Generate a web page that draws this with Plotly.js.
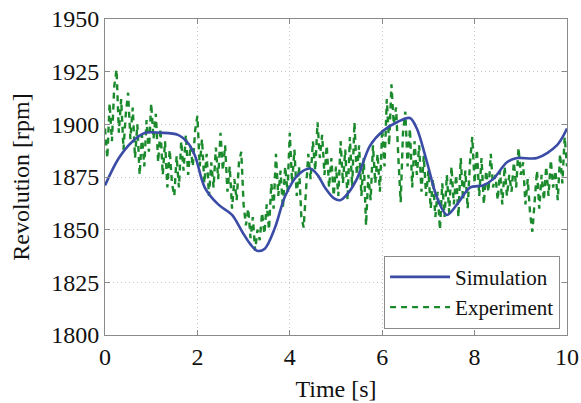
<!DOCTYPE html>
<html>
<head>
<meta charset="utf-8">
<script src="https://cdn.plot.ly/plotly-3.0.1.min.js"></script>
<style>html,body{margin:0;padding:0;background:#fff;}#chart{width:581px;height:403px;}</style>
</head>
<body>
<div id="chart"></div>
<script>
// Simulation (smooth) - time [s] and revolution [rpm]
const simTime = [0, 0.3, 0.6, 0.87, 1.2, 1.58, 1.8, 1.95, 2.16, 2.45, 2.75, 2.97, 3.15, 3.29, 3.46, 3.68, 3.9, 4.18, 4.44, 4.6, 4.76, 4.95, 5.09, 5.25, 5.45, 5.74, 6.02, 6.32, 6.6, 6.75, 6.97, 7.19, 7.4, 7.62, 7.9, 8.18, 8.4, 8.7, 8.92, 9.35, 9.78, 10];
const simRpm  = [1871, 1884, 1892, 1896, 1896, 1895, 1891, 1885, 1870, 1862, 1857, 1849, 1843, 1840, 1841, 1851, 1866, 1876, 1879, 1876, 1870, 1865, 1864, 1867, 1874, 1890, 1897, 1901, 1903, 1898, 1882, 1865, 1857, 1862, 1870, 1871, 1874, 1882, 1884, 1884, 1890, 1898];

// Experiment (measured) - sampled every 0.05 s from 0 to 10 s
const expRpm = [
  1898, 1884, 1910, 1892, 1918, 1926, 1896, 1912, 1888, 1905,
  1915, 1893, 1908, 1884, 1900, 1876, 1895, 1880, 1902, 1887,
  1910, 1893, 1905, 1882, 1898, 1876, 1892, 1870, 1888, 1872,
  1866, 1885, 1870, 1892, 1878, 1895, 1876, 1890, 1880, 1897,
  1904, 1880, 1893, 1872, 1886, 1866, 1882, 1870, 1889, 1874,
  1896, 1878, 1890, 1868, 1880, 1860, 1874, 1864, 1882, 1887,
  1862, 1852, 1860, 1846, 1856, 1840, 1850, 1845, 1858, 1848,
  1862, 1850, 1872, 1860, 1886, 1866, 1878, 1860, 1880, 1868,
  1896, 1872, 1888, 1866, 1880, 1856, 1851, 1870, 1886, 1874,
  1892, 1878, 1901, 1884, 1895, 1876, 1890, 1870, 1884, 1866,
  1880, 1866, 1892, 1872, 1888, 1864, 1894, 1870, 1901, 1876,
  1890, 1866, 1884, 1852, 1876, 1864, 1890, 1872, 1886, 1868,
  1898, 1880, 1912, 1890, 1919, 1900, 1908, 1884, 1863, 1896,
  1906, 1880, 1898, 1870, 1892, 1876, 1890, 1868, 1885, 1866,
  1878, 1860, 1874, 1856, 1868, 1850, 1872, 1856, 1876, 1858,
  1880, 1862, 1876, 1856, 1884, 1864, 1878, 1860, 1882, 1894,
  1872, 1888, 1866, 1884, 1862, 1878, 1868, 1886, 1870, 1876,
  1864, 1878, 1862, 1880, 1866, 1876, 1868, 1882, 1870, 1889,
  1876, 1882, 1862, 1874, 1858, 1849, 1866, 1878, 1860, 1876,
  1864, 1880, 1866, 1883, 1870, 1878, 1864, 1886, 1872, 1894,
  1880
];
const expStep = 0.05;
const expTime = expRpm.map((_, i) => +(i * expStep).toFixed(2));

const xTicks = [0, 2, 4, 6, 8, 10];
const yTicks = [1800, 1825, 1850, 1875, 1900, 1925, 1950];

const fam = 'Liberation Serif, Times New Roman, serif';
const font = {family: fam, size: 24, color: '#111'};

const data = [
  {x: expTime, y: expRpm, type: 'scatter', mode: 'lines', name: 'Experiment',
   line: {color: '#1a8a2c', width: 2.4, dash: '6px,5px'}},
  {x: simTime, y: simRpm, type: 'scatter', mode: 'lines', name: 'Simulation',
   line: {color: '#3b4ca6', width: 2.6, shape: 'spline', smoothing: 0.9}}
];

const axisCommon = {
  showline: true, mirror: 'ticks', linecolor: '#8a8a8a', linewidth: 1,
  ticks: 'inside', ticklen: 5, tickcolor: '#8a8a8a',
  showgrid: true, gridcolor: '#c4c4c4', griddash: '1px,3px', gridwidth: 1,
  zeroline: false, tickfont: font
};

const layout = {
  width: 581, height: 403,
  margin: {l: 105, r: 14, t: 19, b: 68},
  paper_bgcolor: '#fff', plot_bgcolor: '#fff',
  font: font,
  showlegend: true,
  legend: {
    x: 0.985, y: 0.02, xanchor: 'right', yanchor: 'bottom',
    bgcolor: '#fff', bordercolor: '#8a8a8a', borderwidth: 1,
    font: {family: fam, size: 21, color: '#111'},
    traceorder: 'reversed', tracegroupgap: 0, itemwidth: 60
  },
  xaxis: Object.assign({}, axisCommon, {
    range: [0, 10], tickvals: xTicks, ticktext: xTicks.map(String),
    title: {text: 'Time [s]', font: font, standoff: 11}
  }),
  yaxis: Object.assign({}, axisCommon, {
    range: [1800, 1950], tickvals: yTicks, ticktext: yTicks.map(String),
    title: {text: 'Revolution [rpm]', font: font, standoff: 14}
  })
};

Plotly.newPlot('chart', data, layout, {staticPlot: true, displayModeBar: false});
</script>
</body>
</html>
